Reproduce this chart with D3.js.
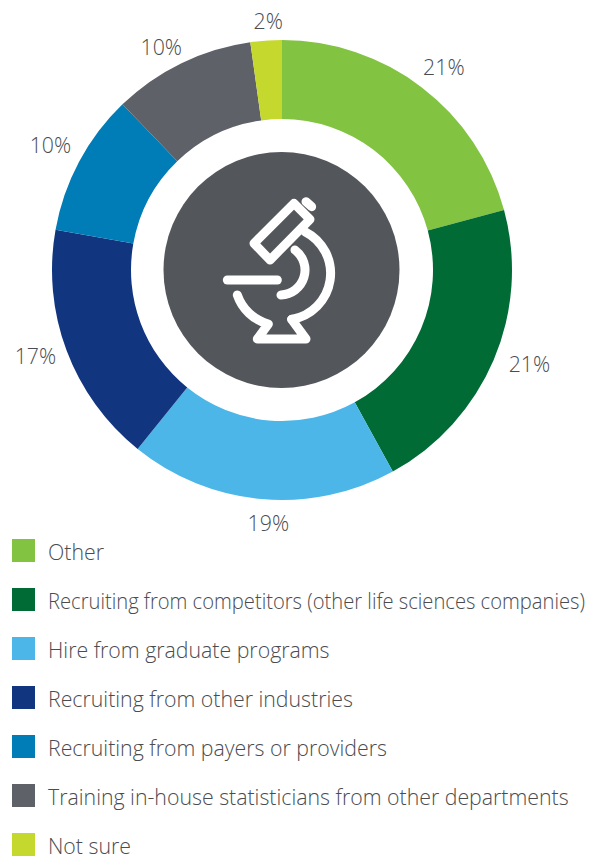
<!DOCTYPE html>
<html>
<head>
<meta charset="utf-8">
<script src="https://cdn.jsdelivr.net/npm/d3@7"></script>
<style>
  html, body { margin: 0; padding: 0; background: #fff; overflow: hidden; }
  svg { display: block; }
  text { font-family: "Open Sans", sans-serif; font-weight: 300; fill: #4a4c50; }
</style>
</head>
<body>
<script>
'use strict';

const categories = [
  'Other',
  'Recruiting from competitors (other life sciences companies)',
  'Hire from graduate programs',
  'Recruiting from other industries',
  'Recruiting from payers or providers',
  'Training in-house statisticians from other departments',
  'Not sure'
];
// slice sizes, the printed labels are rounded
const values = [20.8, 21.2, 18.8, 17, 10, 10, 2.2];
const valueLabels = ['21%', '21%', '19%', '17%', '10%', '10%', '2%'];
const colors = ['#82c341', '#006b35', '#4cb6e9', '#12357f', '#007cb6', '#5f6169', '#c5d82e'];

// the labels don't sit on one radius in the original, so nudge each one
const labelNudge = [[5, 2], [10, -6], [9, -3], [-5, -4], [-4, -3], [-8, 10], [4, 9]];

const svg = d3.select('body').append('svg')
  .attr('width', 591)
  .attr('height', 859);

// donut
const cx = 282, cy = 270;
const pie = d3.pie().value(d => d).sort(null);
const arc = d3.arc().innerRadius(151).outerRadius(230);
const labelArc = d3.arc().innerRadius(258).outerRadius(258);

const chart = svg.append('g').attr('transform', `translate(${cx}, ${cy})`);
const slices = pie(values);

chart.selectAll('path.slice')
  .data(slices)
  .enter()
  .append('path')
    .attr('class', 'slice')
    .attr('d', arc)
    .attr('fill', (d, i) => colors[i]);

chart.selectAll('text.pct')
  .data(slices)
  .enter()
  .append('text')
    .attr('class', 'pct')
    .attr('x', (d, i) => labelArc.centroid(d)[0] + labelNudge[i][0])
    .attr('y', (d, i) => labelArc.centroid(d)[1] + labelNudge[i][1])
    .attr('dy', '0.35em')
    .attr('text-anchor', 'middle')
    .style('font-size', '21.3px')
    .text((d, i) => valueLabels[i]);

chart.append('circle').attr('cx', -0.5).attr('r', 118).attr('fill', '#53565a');

// microscope icon, drawn in the coordinates of a 510px box then scaled down
const icon = svg.append('g')
  .attr('transform', 'translate(200, 180) scale(0.3333)')
  .attr('fill', 'none')
  .attr('stroke', '#fff')
  .attr('stroke-width', 27)
  .attr('stroke-linecap', 'round')
  .attr('stroke-linejoin', 'round');

const iconPaths = [
  'M162,190 L282,70 L330,118 L210,240 Z',
  'M318,65 L335,80',
  'M315,155 A140,140 0 0 1 275,418',
  'M285,210 A75,75 0 0 1 243,345',
  'M82,300 L232,300',
  'M112,345 A135,135 0 0 0 205,432 L172,477 L318,477 L275,418'
];
icon.selectAll('path')
  .data(iconPaths)
  .enter()
  .append('path')
    .attr('d', d => d);

// legend
const legendRow = d3.scalePoint()
  .domain(categories)
  .range([550.5, 844.5]);

const legend = svg.selectAll('g.legend')
  .data(categories)
  .enter()
  .append('g')
    .attr('class', 'legend')
    .attr('transform', d => `translate(0, ${legendRow(d)})`);

legend.append('rect')
  .attr('x', 12)
  .attr('y', -11.5)
  .attr('width', 23)
  .attr('height', 23)
  .attr('fill', (d, i) => colors[i]);

legend.append('text')
  .attr('transform', 'translate(48, 0)')
  .attr('y', 2.5)
  .attr('dy', '0.35em')
  .style('font-size', '21.3px')
  .text(d => d);

// the long row is squeezed to fit the page width in the original
legend.filter((d, i) => i === 1).select('text')
  .attr('transform', function() {
    return `translate(48, 0) scale(${537 / this.getComputedTextLength()}, 1)`;
  });
</script>
</body>
</html>
